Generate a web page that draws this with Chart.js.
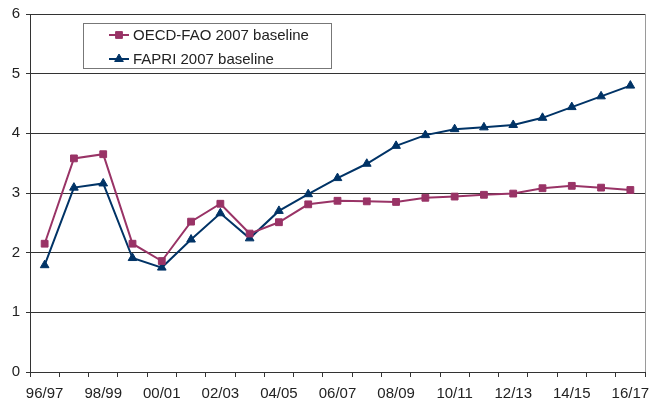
<!DOCTYPE html>
<html>
<head>
<meta charset="utf-8">
<script src="https://cdn.jsdelivr.net/npm/chart.js@4"></script>
<style>
html,body{margin:0;padding:0;background:#fff;}
#wrap{position:relative;width:651px;height:403px;}
</style>
</head>
<body>
<div id="wrap"><canvas id="c" width="651" height="403"></canvas></div>
<script>
const categories = ["96/97","97/98","98/99","99/00","00/01","01/02","02/03","03/04","04/05","05/06","06/07","07/08","08/09","09/10","10/11","11/12","12/13","13/14","14/15","15/16","16/17"];
const oecdFao = [2.15,3.58,3.65,2.15,1.86,2.52,2.82,2.32,2.51,2.81,2.87,2.86,2.85,2.92,2.94,2.97,2.99,3.08,3.12,3.09,3.05];
const fapri = [1.79,3.09,3.16,1.91,1.75,2.22,2.66,2.24,2.70,2.98,3.25,3.49,3.79,3.97,4.07,4.10,4.14,4.26,4.44,4.62,4.80];
const seriesNames = ["OECD-FAO 2007 baseline","FAPRI 2007 baseline"];
const yTicks = [0,1,2,3,4,5,6];

const FONT = "'Liberation Sans', Arial, sans-serif";

const legendBox = {
  id: 'legendBox',
  afterDraw(chart) {
    const ctx = chart.ctx;
    const ca = chart.chartArea;
    ctx.save();
    // right border
    ctx.strokeStyle = '#9a9a9a';
    ctx.lineWidth = 1;
    ctx.beginPath();
    ctx.moveTo(Math.round(ca.right) + 0.5, ca.top);
    ctx.lineTo(Math.round(ca.right) + 0.5, ca.bottom);
    ctx.stroke();
    // legend box
    const bx = 83.5, by = 23.5, bw = 248, bh = 45;
    ctx.fillStyle = '#fff';
    ctx.fillRect(bx, by, bw, bh);
    ctx.strokeStyle = '#777';
    ctx.strokeRect(bx, by, bw, bh);
    const rows = [35, 59];
    chart.data.datasets.forEach((ds, i) => {
      const y = rows[i];
      ctx.strokeStyle = ds.borderColor;
      ctx.fillStyle = ds.backgroundColor;
      ctx.lineWidth = 2;
      ctx.beginPath();
      ctx.moveTo(109, y);
      ctx.lineTo(129, y);
      ctx.stroke();
      ctx.lineWidth = 1;
      Chart.helpers.drawPoint(ctx, {
        pointStyle: ds.pointStyle,
        radius: ds.pointRadius,
        borderWidth: 1
      }, 119, y);
      ctx.fillStyle = '#222';
      ctx.font = '15px ' + FONT;
      ctx.textBaseline = 'middle';
      ctx.textAlign = 'left';
      ctx.fillText(ds.label, 133, y + 1);
    });
    ctx.restore();
  }
};

new Chart(document.getElementById('c'), {
  type: 'line',
  data: {
    labels: categories,
    datasets: [
      {
        label: seriesNames[0],
        data: oecdFao,
        borderColor: '#993366',
        backgroundColor: '#993366',
        borderWidth: 2,
        pointStyle: 'rect',
        pointRadius: 4.8,
        pointBorderWidth: 1,
        tension: 0
      },
      {
        label: seriesNames[1],
        data: fapri,
        borderColor: '#003366',
        backgroundColor: '#003366',
        borderWidth: 2,
        pointStyle: 'triangle',
        pointRadius: 5,
        pointBorderWidth: 1,
        tension: 0
      }
    ]
  },
  options: {
    responsive: false,
    animation: false,
    devicePixelRatio: 1,
    layout: { padding: { top: 14, right: 4, left: 0, bottom: 0 } },
    plugins: {
      legend: { display: false },
      tooltip: { enabled: false }
    },
    scales: {
      x: {
        type: 'category',
        offset: true,
        grid: {
          offset: true,
          drawOnChartArea: false,
          drawTicks: true,
          tickLength: 5,
          color: '#333'
        },
        border: { color: '#333', width: 1 },
        ticks: {
          autoSkip: false,
          maxRotation: 0,
          minRotation: 0,
          padding: 8,
          color: '#222',
          font: { family: FONT, size: 15 },
          callback: function(v, i) { return i % 2 === 0 ? categories[i] : ''; }
        },
        afterFit(scale) {
          scale.height = 31;
          scale.paddingLeft = 0;
          scale.paddingRight = 0;
        }
      },
      y: {
        min: 0,
        max: 6,
        afterBuildTicks(scale) { scale.ticks = yTicks.map(v => ({ value: v })); },
        grid: {
          color: '#333',
          lineWidth: 1,
          tickLength: 4
        },
        border: { color: '#333', width: 1 },
        ticks: {
          padding: 6,
          color: '#222',
          font: { family: FONT, size: 15 }
        },
        afterFit(scale) {
          scale.width = 30;
          scale.paddingTop = 0;
          scale.paddingBottom = 0;
        }
      }
    }
  },
  plugins: [legendBox]
});
</script>
</body>
</html>
